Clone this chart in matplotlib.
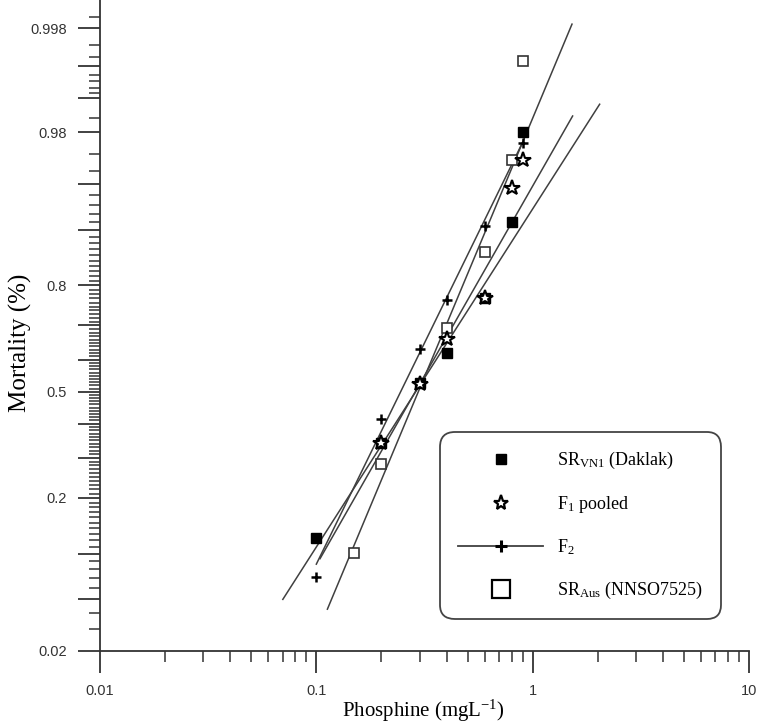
import numpy as np
import matplotlib
matplotlib.use('Agg')
import matplotlib.pyplot as plt
from matplotlib.lines import Line2D
from matplotlib.ticker import FixedLocator, FixedFormatter, LogLocator, NullFormatter
from statistics import NormalDist

# --- data ---
vn1_x = [0.1, 0.2, 0.3, 0.4, 0.6, 0.8, 0.9]
vn1_y = [0.123, 0.343, 0.528, 0.619, 0.770, 0.910, 0.980]

f1_x = [0.2, 0.3, 0.4, 0.6, 0.8, 0.9]
f1_y = [0.343, 0.525, 0.663, 0.772, 0.947, 0.967]

f2_x = [0.1, 0.2, 0.3, 0.4, 0.6, 0.9]
f2_y = [0.071, 0.415, 0.633, 0.767, 0.905, 0.9755]

aus_x = [0.15, 0.2, 0.4, 0.6, 0.8, 0.9]
aus_y = [0.1006, 0.284, 0.694, 0.865, 0.967, 0.9956]

# fitted probit lines (end points)
vn1_fit_x = [0.07, 2.04]
vn1_fit_y = [0.050, 0.9886]
f1_fit_x = [0.104, 1.53]
f1_fit_y = [0.093, 0.9855]
f2_fit_x = [0.1, 0.9]
f2_fit_y = [0.086, 0.976]
aus_fit_x = [0.1125, 1.52]
aus_fit_y = [0.0425, 0.9982]

y_major = [0.02, 0.05, 0.1, 0.2, 0.3, 0.4, 0.5, 0.6, 0.7, 0.8, 0.9, 0.95, 0.98, 0.99, 0.995, 0.998]
y_major_labels = ['0.02', '', '', '0.2', '', '', '0.5', '', '', '0.8', '', '', '0.98', '', '', '0.998']
y_minor = ([0.03, 0.04, 0.06, 0.07, 0.08, 0.09]
           + [round(v, 2) for v in np.arange(0.11, 0.90, 0.01)]
           + [0.91, 0.92, 0.93, 0.94, 0.96, 0.97, 0.985,
              0.991, 0.992, 0.993, 0.994, 0.996, 0.997, 0.9985])

x_major = [0.01, 0.1, 1, 10]
x_labels = ['0.01', '0.1', '1', '10']

# probit scale
_nd = NormalDist()
_ppf = np.vectorize(_nd.inv_cdf, otypes=[float])
_cdf = np.vectorize(_nd.cdf, otypes=[float])


def probit(p):
    p = np.clip(np.asarray(p, dtype=float), 1e-9, 1 - 1e-9)
    return _ppf(p)


def inv_probit(z):
    return _cdf(np.asarray(z, dtype=float))


plt.rcParams['mathtext.fontset'] = 'custom'
plt.rcParams['mathtext.rm'] = 'Liberation Serif'
plt.rcParams['mathtext.it'] = 'Liberation Serif:italic'

fig = plt.figure(figsize=(7.59, 7.25), dpi=100)
ax = fig.add_axes([100 / 759, 74 / 725, 649 / 759, 651 / 725])

ax.set_xscale('log')
ax.set_yscale('function', functions=(probit, inv_probit))
ax.set_xlim(0.01, 10)
ax.set_ylim(0.02, 0.99904)

line_c = '#404040'
# fitted lines
ax.plot(vn1_fit_x, vn1_fit_y, color=line_c, lw=1.1, zorder=2)
ax.plot(f1_fit_x, f1_fit_y, color=line_c, lw=1.1, zorder=2)
ax.plot(f2_fit_x, f2_fit_y, color=line_c, lw=1.1, zorder=2)
ax.plot(aus_fit_x, aus_fit_y, color=line_c, lw=1.1, zorder=2)

# observed points
ax.plot(vn1_x, vn1_y, ls='none', marker='s', ms=6.5, color='black', zorder=3)
ax.plot(aus_x, aus_y, ls='none', marker='s', ms=7.5, mfc='white', mec='#333333', mew=1.2, zorder=3)
ax.plot(f1_x, f1_y, ls='none', marker='*', ms=11.5, mfc='white', mec='black', mew=1.5, zorder=4)
ax.plot(f2_x, f2_y, ls='none', marker='+', ms=7, color='black', mew=1.8, zorder=4)

# axes styling
for s in ['top', 'right']:
    ax.spines[s].set_visible(False)
for s in ['left', 'bottom']:
    ax.spines[s].set_linewidth(1.3)
    ax.spines[s].set_color('#333333')

ax.xaxis.set_major_locator(FixedLocator(x_major))
ax.xaxis.set_major_formatter(FixedFormatter(x_labels))
ax.xaxis.set_minor_locator(LogLocator(base=10, subs=np.arange(2, 10)))
ax.xaxis.set_minor_formatter(NullFormatter())

ax.yaxis.set_major_locator(FixedLocator(y_major))
ax.yaxis.set_major_formatter(FixedFormatter(y_major_labels))
ax.yaxis.set_minor_locator(FixedLocator(y_minor))
ax.yaxis.set_minor_formatter(NullFormatter())

ax.tick_params(which='major', direction='out', length=16, width=1.3, color='#333333',
               labelsize=10.5, labelcolor='#333333')
ax.tick_params(which='minor', direction='out', length=8, width=1.1, color='#333333')
ax.tick_params(axis='x', which='major', pad=8)
ax.tick_params(axis='y', which='major', pad=8)
for lab in ax.get_xticklabels() + ax.get_yticklabels():
    lab.set_family('Liberation Sans')

ax.set_xlabel('Phosphine (mgL$^{\\mathrm{-1}}$)', family='Liberation Serif', fontsize=15)
ax.set_ylabel('Mortality (%)', family='Liberation Serif', fontsize=18)
ax.xaxis.set_label_coords(0.499, -0.072)
ax.yaxis.set_label_coords(-0.105, 0.473)

handles = [
    Line2D([], [], ls='none', marker='s', ms=7.5, color='black'),
    Line2D([], [], ls='none', marker='*', ms=11, mfc='white', mec='black', mew=1.6),
    Line2D([], [], color=line_c, lw=1.3, marker='+', ms=9, mec='black', mew=2.2),
    Line2D([], [], ls='none', marker='s', ms=13, mfc='white', mec='black', mew=1.6),
]
labels = ['SR$_{\\mathrm{VN1}}$ (Daklak)', 'F$_{\\mathrm{1}}$ pooled', 'F$_{\\mathrm{2}}$',
          'SR$_{\\mathrm{Aus}}$ (NNSO7525)']
leg = ax.legend(handles, labels, loc='upper left', bbox_to_anchor=(0.524, 0.336),
                borderaxespad=0, prop={'family': 'Liberation Serif', 'size': 13},
                handlelength=4.7, handletextpad=0.8, labelspacing=1.25, borderpad=1.0,
                fancybox=True, framealpha=1, edgecolor='#444444')
leg.get_frame().set_linewidth(1.3)
leg.get_frame().set_boxstyle('round', pad=0, rounding_size=0.8)

fig.savefig('out.png', dpi=100)
